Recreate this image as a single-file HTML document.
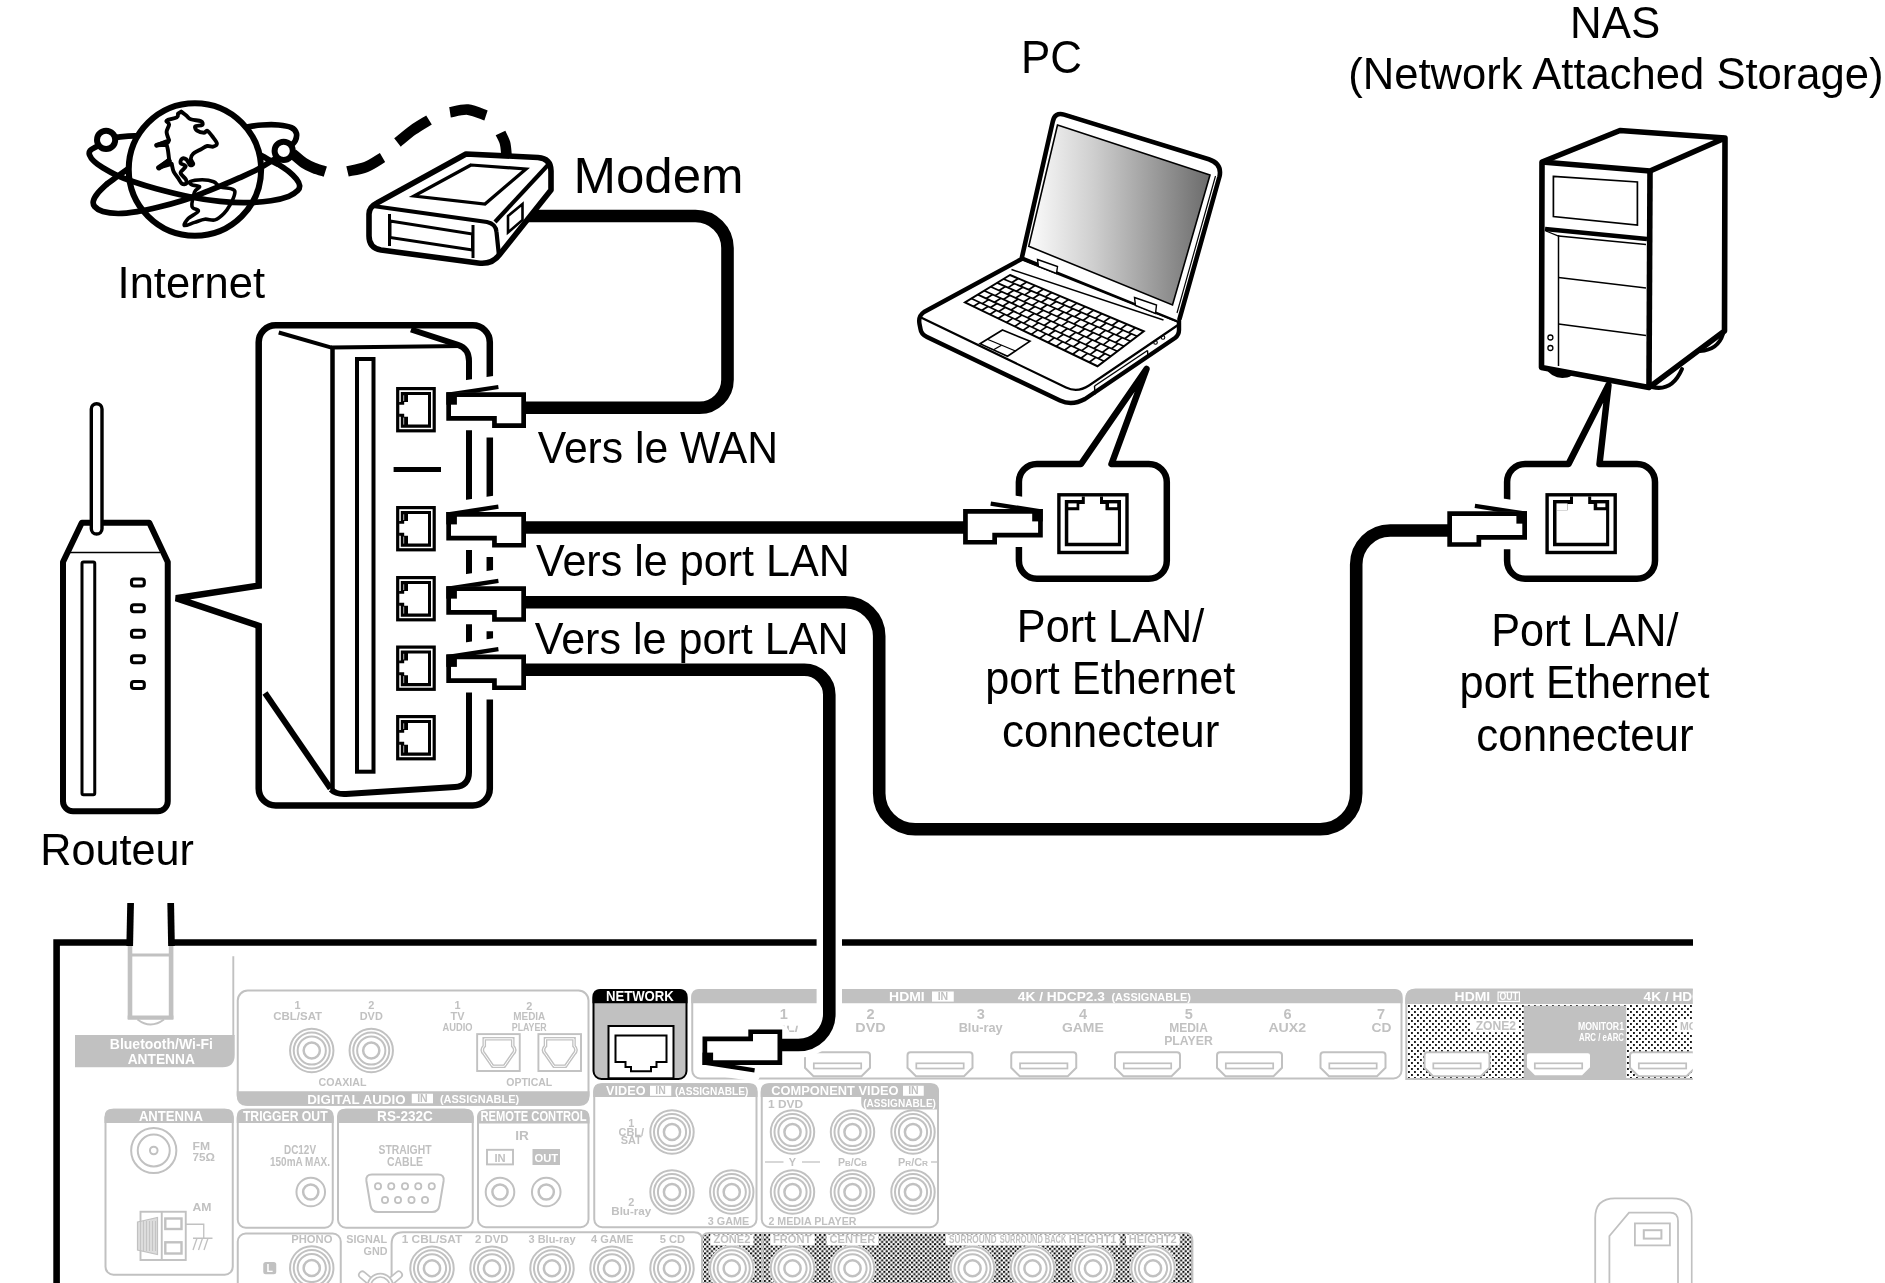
<!DOCTYPE html>
<html lang="fr">
<head>
<meta charset="utf-8">
<title>Connexion r&eacute;seau</title>
<style>
html,body{margin:0;padding:0;background:#fff;}
body{width:1885px;height:1283px;overflow:hidden;}
svg{display:block;will-change:transform;font-family:"Liberation Sans",Arial,Helvetica,sans-serif;}
</style>
</head>
<body>
<svg width="1885" height="1283" viewBox="0 0 1885 1283">
<defs>
<linearGradient id="scr" gradientUnits="userSpaceOnUse" x1="1030" y1="0" x2="1210" y2="0">
<stop offset="0" stop-color="#fbfbfb"/><stop offset="0.35" stop-color="#cfcfcf"/><stop offset="0.7" stop-color="#9a9a9a"/><stop offset="1" stop-color="#6b6b6b"/>
</linearGradient>
<pattern id="dots" width="6" height="6" patternUnits="userSpaceOnUse" x="1408" y="1005">
<rect width="6" height="6" fill="#fff"/><rect x="0" y="0" width="1.9" height="1.9" rx="0.6" fill="#000"/><rect x="3" y="3" width="1.9" height="1.9" rx="0.6" fill="#000"/>
</pattern>
<pattern id="dots2" width="4.6" height="4.6" patternUnits="userSpaceOnUse" x="704" y="1234">
<rect width="4.6" height="4.6" fill="#fff"/><rect x="0" y="0" width="2.1" height="2.1" rx="0.5" fill="#000"/><rect x="2.3" y="2.3" width="2.1" height="2.1" rx="0.5" fill="#000"/>
</pattern>
</defs>
<g stroke-linecap="round" stroke-linejoin="round">
<path d="M112 138C112.93 137.85 113.82 137.47 117.6 137.1C121.38 136.73 127.63 135.82 134.7 135.8C141.77 135.78 155.78 136.8 160 137" fill="none" stroke="#000" stroke-width="5.7"/>
<path d="M290.7 146C291.45 145.15 294.25 143.02 295.2 140.9C296.15 138.78 297.03 135.52 296.4 133.3C295.77 131.08 294.37 128.98 291.4 127.6C288.43 126.22 283.48 125.43 278.6 125C273.72 124.57 267.18 124.72 262.1 125C257.02 125.28 252.62 125.87 248.1 126.7C243.58 127.53 237.18 129.45 235 130" fill="none" stroke="#000" stroke-width="5.7"/>
<path d="M140 160C137.53 161.82 129.05 168.13 125.2 170.9C121.35 173.67 119.98 174.38 116.9 176.6C113.82 178.82 108.4 182.93 106.7 184.2" fill="none" stroke="#000" stroke-width="5.7"/>
<path d="M255 152C257.23 153.23 264.47 157.32 268.4 159.4C272.33 161.48 276.9 163.65 278.6 164.5" fill="none" stroke="#000" stroke-width="5.7"/>
</g>
<circle cx="194.9" cy="169.5" r="66.2" fill="#fff" stroke="#000" stroke-width="6.1"/>
<path d="M181.2 111.6C182.05 112.25 184.7 114.22 186.3 115.5C187.9 116.78 188.35 118.35 190.8 119.3C193.25 120.25 199.1 120.25 201 121.2C202.9 122.15 203.17 124.15 202.2 125C201.23 125.85 196.05 125.35 195.2 126.3C194.35 127.25 195.62 129.63 197.1 130.7C198.58 131.77 202.4 132.7 204.1 132.7C205.8 132.7 205.92 130.07 207.3 130.7C208.68 131.33 210.8 134.37 212.4 136.5C214 138.63 216.78 141.8 216.9 143.5C217.02 145.2 214.7 146.28 213.1 146.7C211.5 147.12 209.32 145.58 207.3 146C205.28 146.42 203.33 147.92 201 149.2C198.67 150.48 195 152.1 193.3 153.7C191.6 155.3 190.8 157.12 190.8 158.8C190.8 160.48 193.42 162.75 193.3 163.8C193.18 164.85 191.27 165.83 190.1 165.1C188.93 164.37 187.67 160.45 186.3 159.4C184.93 158.35 182.85 158.17 181.9 158.8C180.95 159.43 179.97 161.93 180.6 163.2C181.23 164.47 185.7 164.8 185.7 166.4C185.7 168 180.6 170.68 180.6 172.8C180.6 174.92 184.75 177.3 185.7 179.1C186.65 180.9 186.93 182.85 186.3 183.6C185.67 184.35 183.28 184.55 181.9 183.6C180.52 182.65 179.38 179.92 178 177.9C176.62 175.88 174.65 173.85 173.6 171.5C172.55 169.15 172.02 165.08 171.7 163.8L158.9,167.7L169.1,159.4C168.9 157.8 168.32 152.25 167.9 149.8C167.48 147.35 166.82 145.55 166.6 144.7L156.4,145.4L169.1,140.3C168.68 138.92 166.6 134.65 166.6 132C166.6 129.35 169.1 126.3 169.1 124.4C169.1 122.5 165.32 121.77 166.6 120.6C167.88 119.43 174.9 118.57 176.8 117.4C178.7 116.23 177.8 114.23 178 113.6Z" fill="none" stroke="#000" stroke-width="3.9" stroke-linejoin="round"/>
<line x1="158.9" y1="167.7" x2="169" y2="161" stroke="#000" stroke-width="5.5" stroke-linecap="round"/>
<line x1="156.6" y1="145.3" x2="168" y2="142" stroke="#000" stroke-width="4.6" stroke-linecap="round"/>
<path d="M190.1 181.7C191.8 180.85 198.27 179.8 202.2 179.8C206.13 179.8 210.72 180.53 213.7 181.7C216.68 182.87 216.92 185.53 220.1 186.8C223.28 188.07 230.37 188.13 232.8 189.3C235.23 190.47 235.13 191.25 234.7 193.8C234.27 196.35 232 201.32 230.2 204.6C228.4 207.88 226.43 210.95 223.9 213.5C221.37 216.05 218.18 218.95 215 219.9C211.82 220.85 208.2 218.78 204.8 219.2C201.4 219.62 198 221.33 194.6 222.4C191.2 223.47 185.47 226.23 184.4 225.6C183.33 224.97 185.87 221.03 188.2 218.6C190.53 216.17 197.77 213.02 198.4 211C199.03 208.98 192.63 209.68 192 206.5C191.37 203.32 193.32 195.18 194.6 191.9C195.88 188.62 200.13 187.97 199.7 186.8C199.27 185.63 193.6 185.75 192 184.9C190.4 184.05 188.4 182.55 190.1 181.7Z" fill="none" stroke="#000" stroke-width="3.6" stroke-linejoin="round"/>
<g stroke-linecap="round" stroke-linejoin="round">
<path d="M100 145C99.22 145.38 96.93 146.38 95.3 147.3C93.67 148.22 91.17 149.23 90.2 150.5C89.23 151.77 88.87 153.1 89.5 154.9C90.13 156.7 91.77 159.17 94 161.3C96.23 163.43 99.08 165.37 102.9 167.7C106.72 170.03 111.8 172.97 116.9 175.3C122 177.63 126.92 179.47 133.5 181.7C140.08 183.93 146.85 186.15 156.4 188.7C165.95 191.25 180.18 194.88 190.8 197C201.42 199.12 210.98 200.45 220.1 201.4C229.22 202.35 237.02 202.8 245.5 202.7C253.98 202.6 263.78 201.87 271 200.8C278.22 199.73 284.35 198 288.8 196.3C293.25 194.6 295.9 192.4 297.7 190.6C299.5 188.8 299.82 187.42 299.6 185.5C299.38 183.58 298.2 181.43 296.4 179.1C294.6 176.77 291.77 173.93 288.8 171.5C285.83 169.07 280.3 165.67 278.6 164.5" fill="none" stroke="#000" stroke-width="5.7"/>
<path d="M278 157C274.72 158.98 264.77 165.42 258.3 168.9C251.83 172.38 245.57 175.03 239.2 177.9C232.83 180.77 226.47 183.45 220.1 186.1C213.73 188.75 207.37 191.35 201 193.8C194.63 196.25 188.92 198.58 181.9 200.8C174.88 203.02 166.33 205.3 158.9 207.1C151.47 208.9 144.08 210.53 137.3 211.6C130.52 212.67 123.93 213.5 118.2 213.5C112.47 213.5 106.83 212.77 102.9 211.6C98.97 210.43 96.18 208.3 94.6 206.5C93.02 204.7 92.87 203.03 93.4 200.8C93.93 198.57 95.58 195.87 97.8 193.1C100.02 190.33 105.22 185.68 106.7 184.2" fill="none" stroke="#000" stroke-width="5.7"/>
</g>
<circle cx="106.1" cy="139.9" r="9.1" fill="#fff" stroke="#000" stroke-width="6"/>
<circle cx="283.7" cy="150.9" r="9.1" fill="#fff" stroke="#000" stroke-width="6"/>
<path d="M292.5 153.5C294.42 155.08 300.42 160.58 304 163C307.58 165.42 310.45 166.57 314 168C317.55 169.43 323.42 171 325.3 171.6" fill="none" stroke="#000" stroke-width="10.6"/>
<path d="M347.5 171.3C350.58 170.58 360.17 169.3 366 167C371.83 164.7 379.75 159.08 382.5 157.5" fill="none" stroke="#000" stroke-width="10.6"/>
<path d="M397.5 142.5C400.08 140.42 407.75 133.75 413 130C418.25 126.25 426.33 121.67 429 120" fill="none" stroke="#000" stroke-width="10.6"/>
<path d="M450 112.3C453 111.85 462 109.07 468 109.6C474 110.13 483 114.52 486 115.5" fill="none" stroke="#000" stroke-width="10.6"/>
<path d="M500.5 133C501.25 134.67 504 139.33 505 143C506 146.67 506.25 153 506.5 155" fill="none" stroke="#000" stroke-width="10.6"/>
<text x="117.59" y="297.5" font-size="44.77" textLength="147.48" lengthAdjust="spacingAndGlyphs">Internet</text>
<text x="573.42" y="192.5" font-size="50.87" textLength="170.13" lengthAdjust="spacingAndGlyphs">Modem</text>
<path d="M81.8,522.75 H149.3 L167.75,562 V801 A10,10 0 0 1 157.75,811.25 H73 A10,10 0 0 1 63,801 V562 Z" fill="#fff" stroke="#000" stroke-width="6" stroke-linejoin="round"/>
<line x1="70" y1="552.5" x2="160" y2="552.5" stroke="#000" stroke-width="1.3"/>
<rect x="82" y="562" width="12.75" height="232.75" fill="none" stroke="#000" stroke-width="3" rx="1.5"/>
<rect x="131.5" y="579" width="12.8" height="7" fill="none" stroke="#000" stroke-width="3.1" rx="2.4"/>
<rect x="131.5" y="604.75" width="12.8" height="7" fill="none" stroke="#000" stroke-width="3.1" rx="2.4"/>
<rect x="131.5" y="630.25" width="12.8" height="7" fill="none" stroke="#000" stroke-width="3.1" rx="2.4"/>
<rect x="131.5" y="655.75" width="12.8" height="7" fill="none" stroke="#000" stroke-width="3.1" rx="2.4"/>
<rect x="131.5" y="681.5" width="12.8" height="7" fill="none" stroke="#000" stroke-width="3.1" rx="2.4"/>
<rect x="91.3" y="403.7" width="10.7" height="130.3" fill="#fff" stroke="#000" stroke-width="3.4" rx="5.35"/>
<text x="40.3" y="865" font-size="44.77" textLength="153.47" lengthAdjust="spacingAndGlyphs">Routeur</text>
<path d="M275.7,325.2 H472.8 A17,17 0 0 1 489.8,342.2 V788.5 A17,17 0 0 1 472.8,805.5 H275.7 A17,17 0 0 1 258.7,788.5 V625.8 L176,598.2 L258.7,585.6 V342.2 A17,17 0 0 1 275.7,325.2 Z" fill="#fff" stroke="#000" stroke-width="6.5"/>
<line x1="278.75" y1="332.5" x2="331.5" y2="347.6" stroke="#000" stroke-width="4"/>
<line x1="331" y1="347.5" x2="463" y2="346" stroke="#000" stroke-width="4"/>
<line x1="332.5" y1="346" x2="332.5" y2="790" stroke="#000" stroke-width="4.5"/>
<path d="M411,329.5 L458,344.8 Q469,348.5 469,361 V772 Q469,786 455,787 L346,794 Q336,794.6 331,789.5" fill="none" stroke="#000" stroke-width="6"/>
<line x1="265" y1="693" x2="330.5" y2="788.5" stroke="#000" stroke-width="6"/>
<rect x="357" y="359" width="16.5" height="412.7" fill="none" stroke="#000" stroke-width="4"/>
<line x1="393.6" y1="469.5" x2="441" y2="469.5" stroke="#000" stroke-width="4.9"/>
<rect x="397.7" y="388.6" width="36.5" height="42.2" fill="none" stroke="#000" stroke-width="3.2"/>
<polygon points="400.8,392.1 431,392.1 431,427.8 400.8,427.8 400.8,416.7 399.1,416.7 399.1,413.8 404.2,413.8 404.2,416.7 408,416.7 408,424.4 428,424.4 428,395.1 408,395.1 408,401.9 404.2,401.9 404.2,404.8 399.1,404.8 399.1,401.9 400.8,401.9" fill="#000"/>
<line x1="403.7" y1="395.3" x2="403.7" y2="401" stroke="#fff" stroke-width="0.7"/>
<line x1="403.7" y1="417.6" x2="403.7" y2="424.6" stroke="#fff" stroke-width="0.7"/>
<rect x="397.7" y="507.6" width="36.5" height="42.2" fill="none" stroke="#000" stroke-width="3.2"/>
<polygon points="400.8,511.1 431,511.1 431,546.8 400.8,546.8 400.8,535.7 399.1,535.7 399.1,532.8 404.2,532.8 404.2,535.7 408,535.7 408,543.4 428,543.4 428,514.1 408,514.1 408,520.9 404.2,520.9 404.2,523.8 399.1,523.8 399.1,520.9 400.8,520.9" fill="#000"/>
<line x1="403.7" y1="514.3" x2="403.7" y2="520" stroke="#fff" stroke-width="0.7"/>
<line x1="403.7" y1="536.6" x2="403.7" y2="543.6" stroke="#fff" stroke-width="0.7"/>
<rect x="397.7" y="577.6" width="36.5" height="42.2" fill="none" stroke="#000" stroke-width="3.2"/>
<polygon points="400.8,581.1 431,581.1 431,616.8 400.8,616.8 400.8,605.7 399.1,605.7 399.1,602.8 404.2,602.8 404.2,605.7 408,605.7 408,613.4 428,613.4 428,584.1 408,584.1 408,590.9 404.2,590.9 404.2,593.8 399.1,593.8 399.1,590.9 400.8,590.9" fill="#000"/>
<line x1="403.7" y1="584.3" x2="403.7" y2="590" stroke="#fff" stroke-width="0.7"/>
<line x1="403.7" y1="606.6" x2="403.7" y2="613.6" stroke="#fff" stroke-width="0.7"/>
<rect x="397.7" y="647.1" width="36.5" height="42.2" fill="none" stroke="#000" stroke-width="3.2"/>
<polygon points="400.8,650.6 431,650.6 431,686.3 400.8,686.3 400.8,675.2 399.1,675.2 399.1,672.3 404.2,672.3 404.2,675.2 408,675.2 408,682.9 428,682.9 428,653.6 408,653.6 408,660.4 404.2,660.4 404.2,663.3 399.1,663.3 399.1,660.4 400.8,660.4" fill="#000"/>
<line x1="403.7" y1="653.8" x2="403.7" y2="659.5" stroke="#fff" stroke-width="0.7"/>
<line x1="403.7" y1="676.1" x2="403.7" y2="683.1" stroke="#fff" stroke-width="0.7"/>
<rect x="397.7" y="716.6" width="36.5" height="42.2" fill="none" stroke="#000" stroke-width="3.2"/>
<polygon points="400.8,720.1 431,720.1 431,755.8 400.8,755.8 400.8,744.7 399.1,744.7 399.1,741.8 404.2,741.8 404.2,744.7 408,744.7 408,752.4 428,752.4 428,723.1 408,723.1 408,729.9 404.2,729.9 404.2,732.8 399.1,732.8 399.1,729.9 400.8,729.9" fill="#000"/>
<line x1="403.7" y1="723.3" x2="403.7" y2="729" stroke="#fff" stroke-width="0.7"/>
<line x1="403.7" y1="745.6" x2="403.7" y2="752.6" stroke="#fff" stroke-width="0.7"/>
<g transform="translate(446.3,392.3) scale(1,1)">
<polygon points="2.35,2.35 77.35,2.35 77.35,33.25 48.15,33.25 48.15,26.15 2.35,26.15" fill="#fff" stroke="#fff" stroke-width="23.7"/>
<polygon points="0,0.4 51.8,-7.4 52.4,-3.2 29,0.4" fill="#fff" stroke="#fff" stroke-width="19" stroke-linejoin="bevel"/>
<polygon points="2.35,2.35 77.35,2.35 77.35,33.25 48.15,33.25 48.15,26.15 2.35,26.15" fill="#fff" stroke="#000" stroke-width="4.7"/>
<rect x="0" y="0" width="10.6" height="12.4" fill="#000"/>
<polygon points="0,0.4 51.8,-7.4 52.4,-3.2 29,0.4" fill="#000"/>
</g>
<g transform="translate(446.3,512) scale(1,1)">
<polygon points="2.35,2.35 77.35,2.35 77.35,33.25 48.15,33.25 48.15,26.15 2.35,26.15" fill="#fff" stroke="#fff" stroke-width="23.7"/>
<polygon points="0,0.4 51.8,-7.4 52.4,-3.2 29,0.4" fill="#fff" stroke="#fff" stroke-width="19" stroke-linejoin="bevel"/>
<polygon points="2.35,2.35 77.35,2.35 77.35,33.25 48.15,33.25 48.15,26.15 2.35,26.15" fill="#fff" stroke="#000" stroke-width="4.7"/>
<rect x="0" y="0" width="10.6" height="12.4" fill="#000"/>
<polygon points="0,0.4 51.8,-7.4 52.4,-3.2 29,0.4" fill="#000"/>
</g>
<g transform="translate(446.3,586.25) scale(1,1)">
<polygon points="2.35,2.35 77.35,2.35 77.35,33.25 48.15,33.25 48.15,26.15 2.35,26.15" fill="#fff" stroke="#fff" stroke-width="23.7"/>
<polygon points="0,0.4 51.8,-7.4 52.4,-3.2 29,0.4" fill="#fff" stroke="#fff" stroke-width="19" stroke-linejoin="bevel"/>
<polygon points="2.35,2.35 77.35,2.35 77.35,33.25 48.15,33.25 48.15,26.15 2.35,26.15" fill="#fff" stroke="#000" stroke-width="4.7"/>
<rect x="0" y="0" width="10.6" height="12.4" fill="#000"/>
<polygon points="0,0.4 51.8,-7.4 52.4,-3.2 29,0.4" fill="#000"/>
</g>
<g transform="translate(446.3,654.5) scale(1,1)">
<polygon points="2.35,2.35 77.35,2.35 77.35,33.25 48.15,33.25 48.15,26.15 2.35,26.15" fill="#fff" stroke="#fff" stroke-width="23.7"/>
<polygon points="0,0.4 51.8,-7.4 52.4,-3.2 29,0.4" fill="#fff" stroke="#fff" stroke-width="19" stroke-linejoin="bevel"/>
<polygon points="2.35,2.35 77.35,2.35 77.35,33.25 48.15,33.25 48.15,26.15 2.35,26.15" fill="#fff" stroke="#000" stroke-width="4.7"/>
<rect x="0" y="0" width="10.6" height="12.4" fill="#000"/>
<polygon points="0,0.4 51.8,-7.4 52.4,-3.2 29,0.4" fill="#000"/>
</g>
<text x="537.79" y="462.5" font-size="45.06" textLength="240.17" lengthAdjust="spacingAndGlyphs">Vers le WAN</text>
<text x="536.03" y="576.25" font-size="44.33" textLength="313.73" lengthAdjust="spacingAndGlyphs">Vers le port LAN</text>
<text x="534.78" y="653.75" font-size="44.33" textLength="313.73" lengthAdjust="spacingAndGlyphs">Vers le port LAN</text>
<path d="M1022.5,258.5 L924,312 Q918,316 919.5,324 L920.5,329 Q921,334 927,337 L1060,400.5 Q1072,406 1085,399 L1175,338 Q1179,335 1179,330 L1179,321 Z" fill="#fff" stroke="#000" stroke-width="4.4" stroke-linejoin="round"/>
<path d="M921,317.5 L1066,387.5 Q1077.5,393 1089,385.5 L1178,325" fill="none" stroke="#000" stroke-width="2.2"/>
<line x1="1094.5" y1="386" x2="1147.5" y2="350.5" stroke="#000" stroke-width="1.4"/>
<line x1="1094.5" y1="386" x2="1095" y2="394.5" stroke="#000" stroke-width="1.4"/>
<line x1="1147.5" y1="350.5" x2="1148" y2="357" stroke="#000" stroke-width="1.4"/>
<circle cx="1155.5" cy="342.5" r="1.8" fill="none" stroke="#000" stroke-width="1.1"/>
<circle cx="1163" cy="337.5" r="1.8" fill="none" stroke="#000" stroke-width="1.1"/>
<polygon points="1010,275 1143.75,331.25 1097.5,366.25 965,302.5" fill="#fff" stroke="#000" stroke-width="2"/>
<line x1="1003.57" y1="278.93" x2="1137.14" y2="336.25" stroke="#000" stroke-width="1.7"/>
<line x1="997.14" y1="282.86" x2="1130.54" y2="341.25" stroke="#000" stroke-width="1.7"/>
<line x1="990.71" y1="286.79" x2="1123.93" y2="346.25" stroke="#000" stroke-width="1.7"/>
<line x1="984.29" y1="290.71" x2="1117.32" y2="351.25" stroke="#000" stroke-width="1.7"/>
<line x1="977.86" y1="294.64" x2="1110.71" y2="356.25" stroke="#000" stroke-width="1.7"/>
<line x1="971.43" y1="298.57" x2="1104.11" y2="361.25" stroke="#000" stroke-width="1.7"/>
<line x1="1018.36" y1="278.52" x2="1011.92" y2="282.51" stroke="#000" stroke-width="1.7"/>
<line x1="1026.72" y1="282.03" x2="1020.27" y2="286.09" stroke="#000" stroke-width="1.7"/>
<line x1="1035.08" y1="285.55" x2="1028.62" y2="289.68" stroke="#000" stroke-width="1.7"/>
<line x1="1043.44" y1="289.06" x2="1036.96" y2="293.26" stroke="#000" stroke-width="1.7"/>
<line x1="1051.8" y1="292.58" x2="1045.31" y2="296.84" stroke="#000" stroke-width="1.7"/>
<line x1="1060.16" y1="296.09" x2="1053.66" y2="300.42" stroke="#000" stroke-width="1.7"/>
<line x1="1068.52" y1="299.61" x2="1062.01" y2="304.01" stroke="#000" stroke-width="1.7"/>
<line x1="1076.88" y1="303.12" x2="1070.36" y2="307.59" stroke="#000" stroke-width="1.7"/>
<line x1="1085.23" y1="306.64" x2="1078.71" y2="311.17" stroke="#000" stroke-width="1.7"/>
<line x1="1093.59" y1="310.16" x2="1087.05" y2="314.75" stroke="#000" stroke-width="1.7"/>
<line x1="1101.95" y1="313.67" x2="1095.4" y2="318.34" stroke="#000" stroke-width="1.7"/>
<line x1="1110.31" y1="317.19" x2="1103.75" y2="321.92" stroke="#000" stroke-width="1.7"/>
<line x1="1118.67" y1="320.7" x2="1112.1" y2="325.5" stroke="#000" stroke-width="1.7"/>
<line x1="1127.03" y1="324.22" x2="1120.45" y2="329.08" stroke="#000" stroke-width="1.7"/>
<line x1="1135.39" y1="327.73" x2="1128.79" y2="332.67" stroke="#000" stroke-width="1.7"/>
<line x1="1014.42" y1="283.59" x2="1007.98" y2="287.6" stroke="#000" stroke-width="1.7"/>
<line x1="1022.77" y1="287.17" x2="1016.32" y2="291.25" stroke="#000" stroke-width="1.7"/>
<line x1="1031.12" y1="290.75" x2="1024.66" y2="294.9" stroke="#000" stroke-width="1.7"/>
<line x1="1039.47" y1="294.33" x2="1032.99" y2="298.55" stroke="#000" stroke-width="1.7"/>
<line x1="1047.82" y1="297.92" x2="1041.33" y2="302.2" stroke="#000" stroke-width="1.7"/>
<line x1="1056.17" y1="301.5" x2="1049.67" y2="305.85" stroke="#000" stroke-width="1.7"/>
<line x1="1064.51" y1="305.08" x2="1058" y2="309.5" stroke="#000" stroke-width="1.7"/>
<line x1="1072.86" y1="308.66" x2="1066.34" y2="313.15" stroke="#000" stroke-width="1.7"/>
<line x1="1081.21" y1="312.25" x2="1074.68" y2="316.8" stroke="#000" stroke-width="1.7"/>
<line x1="1089.56" y1="315.83" x2="1083.01" y2="320.45" stroke="#000" stroke-width="1.7"/>
<line x1="1097.91" y1="319.41" x2="1091.35" y2="324.1" stroke="#000" stroke-width="1.7"/>
<line x1="1106.25" y1="322.99" x2="1099.69" y2="327.75" stroke="#000" stroke-width="1.7"/>
<line x1="1114.6" y1="326.58" x2="1108.03" y2="331.4" stroke="#000" stroke-width="1.7"/>
<line x1="1122.95" y1="330.16" x2="1116.36" y2="335.05" stroke="#000" stroke-width="1.7"/>
<line x1="1131.3" y1="333.74" x2="1124.7" y2="338.7" stroke="#000" stroke-width="1.7"/>
<line x1="1005.48" y1="286.51" x2="999.04" y2="290.5" stroke="#000" stroke-width="1.7"/>
<line x1="1013.82" y1="290.16" x2="1007.37" y2="294.22" stroke="#000" stroke-width="1.7"/>
<line x1="1022.15" y1="293.81" x2="1015.69" y2="297.94" stroke="#000" stroke-width="1.7"/>
<line x1="1030.49" y1="297.46" x2="1024.02" y2="301.65" stroke="#000" stroke-width="1.7"/>
<line x1="1038.83" y1="301.1" x2="1032.34" y2="305.37" stroke="#000" stroke-width="1.7"/>
<line x1="1047.17" y1="304.75" x2="1040.67" y2="309.08" stroke="#000" stroke-width="1.7"/>
<line x1="1055.5" y1="308.4" x2="1049" y2="312.8" stroke="#000" stroke-width="1.7"/>
<line x1="1063.84" y1="312.05" x2="1057.32" y2="316.52" stroke="#000" stroke-width="1.7"/>
<line x1="1072.18" y1="315.7" x2="1065.65" y2="320.23" stroke="#000" stroke-width="1.7"/>
<line x1="1080.51" y1="319.35" x2="1073.97" y2="323.95" stroke="#000" stroke-width="1.7"/>
<line x1="1088.85" y1="323" x2="1082.3" y2="327.67" stroke="#000" stroke-width="1.7"/>
<line x1="1097.19" y1="326.65" x2="1090.62" y2="331.38" stroke="#000" stroke-width="1.7"/>
<line x1="1105.52" y1="330.3" x2="1098.95" y2="335.1" stroke="#000" stroke-width="1.7"/>
<line x1="1113.86" y1="333.95" x2="1107.28" y2="338.82" stroke="#000" stroke-width="1.7"/>
<line x1="1122.2" y1="337.6" x2="1115.6" y2="342.53" stroke="#000" stroke-width="1.7"/>
<line x1="1001.54" y1="291.62" x2="995.09" y2="295.63" stroke="#000" stroke-width="1.7"/>
<line x1="1009.86" y1="295.33" x2="1003.41" y2="299.42" stroke="#000" stroke-width="1.7"/>
<line x1="1018.19" y1="299.05" x2="1011.72" y2="303.2" stroke="#000" stroke-width="1.7"/>
<line x1="1026.52" y1="302.77" x2="1020.04" y2="306.98" stroke="#000" stroke-width="1.7"/>
<line x1="1034.84" y1="306.48" x2="1028.35" y2="310.77" stroke="#000" stroke-width="1.7"/>
<line x1="1043.17" y1="310.2" x2="1036.67" y2="314.55" stroke="#000" stroke-width="1.7"/>
<line x1="1051.49" y1="313.92" x2="1044.98" y2="318.33" stroke="#000" stroke-width="1.7"/>
<line x1="1059.82" y1="317.63" x2="1053.3" y2="322.12" stroke="#000" stroke-width="1.7"/>
<line x1="1068.15" y1="321.35" x2="1061.61" y2="325.9" stroke="#000" stroke-width="1.7"/>
<line x1="1076.47" y1="325.07" x2="1069.93" y2="329.68" stroke="#000" stroke-width="1.7"/>
<line x1="1084.8" y1="328.78" x2="1078.24" y2="333.47" stroke="#000" stroke-width="1.7"/>
<line x1="1093.12" y1="332.5" x2="1086.56" y2="337.25" stroke="#000" stroke-width="1.7"/>
<line x1="1101.45" y1="336.22" x2="1094.87" y2="341.03" stroke="#000" stroke-width="1.7"/>
<line x1="1109.77" y1="339.93" x2="1103.19" y2="344.82" stroke="#000" stroke-width="1.7"/>
<line x1="1118.1" y1="343.65" x2="1111.5" y2="348.6" stroke="#000" stroke-width="1.7"/>
<line x1="992.6" y1="294.5" x2="986.16" y2="298.49" stroke="#000" stroke-width="1.7"/>
<line x1="1000.92" y1="298.28" x2="994.46" y2="302.34" stroke="#000" stroke-width="1.7"/>
<line x1="1009.23" y1="302.06" x2="1002.77" y2="306.19" stroke="#000" stroke-width="1.7"/>
<line x1="1017.54" y1="305.85" x2="1011.07" y2="310.04" stroke="#000" stroke-width="1.7"/>
<line x1="1025.86" y1="309.63" x2="1019.38" y2="313.9" stroke="#000" stroke-width="1.7"/>
<line x1="1034.17" y1="313.42" x2="1027.68" y2="317.75" stroke="#000" stroke-width="1.7"/>
<line x1="1042.49" y1="317.2" x2="1035.98" y2="321.6" stroke="#000" stroke-width="1.7"/>
<line x1="1050.8" y1="320.98" x2="1044.29" y2="325.45" stroke="#000" stroke-width="1.7"/>
<line x1="1059.12" y1="324.77" x2="1052.59" y2="329.3" stroke="#000" stroke-width="1.7"/>
<line x1="1067.43" y1="328.55" x2="1060.89" y2="333.15" stroke="#000" stroke-width="1.7"/>
<line x1="1075.75" y1="332.33" x2="1069.2" y2="337" stroke="#000" stroke-width="1.7"/>
<line x1="1084.06" y1="336.12" x2="1077.5" y2="340.85" stroke="#000" stroke-width="1.7"/>
<line x1="1092.38" y1="339.9" x2="1085.8" y2="344.7" stroke="#000" stroke-width="1.7"/>
<line x1="1100.69" y1="343.68" x2="1094.11" y2="348.55" stroke="#000" stroke-width="1.7"/>
<line x1="1109.01" y1="347.47" x2="1102.41" y2="352.4" stroke="#000" stroke-width="1.7"/>
<line x1="988.65" y1="299.65" x2="982.21" y2="303.66" stroke="#000" stroke-width="1.7"/>
<line x1="996.96" y1="303.5" x2="990.5" y2="307.58" stroke="#000" stroke-width="1.7"/>
<line x1="1005.26" y1="307.35" x2="998.79" y2="311.5" stroke="#000" stroke-width="1.7"/>
<line x1="1013.56" y1="311.2" x2="1007.09" y2="315.42" stroke="#000" stroke-width="1.7"/>
<line x1="1021.87" y1="315.05" x2="1015.38" y2="319.33" stroke="#000" stroke-width="1.7"/>
<line x1="1030.17" y1="318.9" x2="1023.67" y2="323.25" stroke="#000" stroke-width="1.7"/>
<line x1="1038.47" y1="322.75" x2="1031.96" y2="327.17" stroke="#000" stroke-width="1.7"/>
<line x1="1046.78" y1="326.6" x2="1040.26" y2="331.09" stroke="#000" stroke-width="1.7"/>
<line x1="1055.08" y1="330.45" x2="1048.55" y2="335" stroke="#000" stroke-width="1.7"/>
<line x1="1063.38" y1="334.3" x2="1056.84" y2="338.92" stroke="#000" stroke-width="1.7"/>
<line x1="1071.69" y1="338.15" x2="1065.13" y2="342.84" stroke="#000" stroke-width="1.7"/>
<line x1="1079.99" y1="342" x2="1073.43" y2="346.76" stroke="#000" stroke-width="1.7"/>
<line x1="1088.29" y1="345.85" x2="1081.72" y2="350.67" stroke="#000" stroke-width="1.7"/>
<line x1="1096.6" y1="349.7" x2="1090.01" y2="354.59" stroke="#000" stroke-width="1.7"/>
<line x1="1104.9" y1="353.55" x2="1098.3" y2="358.51" stroke="#000" stroke-width="1.7"/>
<line x1="979.72" y1="302.49" x2="973.28" y2="306.48" stroke="#000" stroke-width="1.7"/>
<line x1="988.01" y1="306.41" x2="981.56" y2="310.47" stroke="#000" stroke-width="1.7"/>
<line x1="996.31" y1="310.32" x2="989.84" y2="314.45" stroke="#000" stroke-width="1.7"/>
<line x1="1004.6" y1="314.24" x2="998.12" y2="318.44" stroke="#000" stroke-width="1.7"/>
<line x1="1012.89" y1="318.16" x2="1006.41" y2="322.42" stroke="#000" stroke-width="1.7"/>
<line x1="1021.18" y1="322.08" x2="1014.69" y2="326.41" stroke="#000" stroke-width="1.7"/>
<line x1="1029.48" y1="325.99" x2="1022.97" y2="330.39" stroke="#000" stroke-width="1.7"/>
<line x1="1037.77" y1="329.91" x2="1031.25" y2="334.38" stroke="#000" stroke-width="1.7"/>
<line x1="1046.06" y1="333.83" x2="1039.53" y2="338.36" stroke="#000" stroke-width="1.7"/>
<line x1="1054.35" y1="337.75" x2="1047.81" y2="342.34" stroke="#000" stroke-width="1.7"/>
<line x1="1062.65" y1="341.66" x2="1056.09" y2="346.33" stroke="#000" stroke-width="1.7"/>
<line x1="1070.94" y1="345.58" x2="1064.38" y2="350.31" stroke="#000" stroke-width="1.7"/>
<line x1="1079.23" y1="349.5" x2="1072.66" y2="354.3" stroke="#000" stroke-width="1.7"/>
<line x1="1087.52" y1="353.42" x2="1080.94" y2="358.28" stroke="#000" stroke-width="1.7"/>
<line x1="1095.81" y1="357.33" x2="1089.22" y2="362.27" stroke="#000" stroke-width="1.7"/>
<line x1="1011.5" y1="269.5" x2="1163.5" y2="320" stroke="#000" stroke-width="1.4"/>
<polygon points="1002.5,330 1030,341.25 1007.5,356.25 980,343.75" fill="none" stroke="#000" stroke-width="1.6"/>
<line x1="988" y1="339.5" x2="1015.5" y2="351" stroke="#000" stroke-width="1.3"/>
<line x1="994" y1="349.5" x2="1001.5" y2="345.3" stroke="#000" stroke-width="1.3"/>
<path d="M1021.5,258 L1052.5,121 Q1054.5,111.5 1064,114 L1209,158.8 Q1223,163.5 1220,176.5 L1179,322 Z" fill="#fff" stroke="#000" stroke-width="2" stroke-linejoin="round"/>
<path d="M1022,257 L1052.8,121.5 Q1054.8,112 1064,114.6 L1208.8,159.3 Q1222.3,163.8 1219.5,176.5 L1179.5,319" fill="none" stroke="#000" stroke-width="4.6" stroke-linejoin="round" stroke-linecap="round"/>
<line x1="1021.5" y1="258" x2="1040" y2="265.5" stroke="#000" stroke-width="4"/>
<polygon points="1057.5,125 1210,175 1172.5,305 1028.75,246.25" fill="url(#scr)" stroke="#000" stroke-width="1.6"/>
<line x1="1215.5" y1="176" x2="1177" y2="313" stroke="#000" stroke-width="1.2"/>
<polygon points="1037.5,259.5 1057.5,266.5 1056.5,273.5 1038.5,266.5" fill="#fff" stroke="#000" stroke-width="1.4"/>
<polygon points="1134.5,297.5 1156.5,305 1155.5,313.5 1135.5,305.5" fill="#fff" stroke="#000" stroke-width="1.4"/>
<text x="1020.99" y="73" font-size="46.15" textLength="60.95" lengthAdjust="spacingAndGlyphs">PC</text>
<path d="M1036.9,464 H1081 L1146.5,369 L1111.5,464 H1148.8 A18,18 0 0 1 1166.8,482 V560.8 A18,18 0 0 1 1148.8,578.8 H1036.9 A18,18 0 0 1 1018.9,560.8 V482 A18,18 0 0 1 1036.9,464 Z" fill="#fff" stroke="#000" stroke-width="6.5" stroke-linejoin="round"/>
<rect x="1058.9" y="494.8" width="68.1" height="57.7" fill="none" stroke="#000" stroke-width="3.4"/>
<polygon points="1064.8,500 1081.8,500 1081.8,496.6 1084.8,496.6 1084.8,504.1 1079.3,504.1 1079.3,510.3 1068.3,510.3 1068.3,542.8 1117.9,542.8 1117.9,510.3 1105.5,510.3 1105.5,504.1 1100,504.1 1100,496.6 1103,496.6 1103,500 1121,500 1121,546.2 1064.8,546.2" fill="#000"/>
<rect x="1068.3" y="503.4" width="8.3" height="3.8" fill="#fff"/>
<rect x="1109" y="503.4" width="8.2" height="3.8" fill="#fff"/>
<path d="M1525.1,464 H1568.5 L1608.5,385 L1599.5,464 H1637 A18,18 0 0 1 1655,482 V560.8 A18,18 0 0 1 1637,578.8 H1525.1 A18,18 0 0 1 1507.1,560.8 V482 A18,18 0 0 1 1525.1,464 Z" fill="#fff" stroke="#000" stroke-width="6.5" stroke-linejoin="round"/>
<rect x="1547.1" y="494.8" width="68.1" height="57.7" fill="none" stroke="#000" stroke-width="3.4"/>
<polygon points="1553,500 1570,500 1570,496.6 1573,496.6 1573,504.1 1567.5,504.1 1567.5,510.3 1556.5,510.3 1556.5,542.8 1606.1,542.8 1606.1,510.3 1593.7,510.3 1593.7,504.1 1588.2,504.1 1588.2,496.6 1591.2,496.6 1591.2,500 1609.2,500 1609.2,546.2 1553,546.2" fill="#000"/>
<rect x="1556.5" y="503.4" width="11" height="7" fill="#fff"/>
<rect x="1597.2" y="503.4" width="8.2" height="3.8" fill="#fff"/>
<g transform="translate(1042.8,509) scale(-1,1)">
<polygon points="2.35,2.35 77.35,2.35 77.35,33.25 48.15,33.25 48.15,26.15 2.35,26.15" fill="#fff" stroke="#fff" stroke-width="23.7"/>
<polygon points="0,0.4 51.8,-7.4 52.4,-3.2 29,0.4" fill="#fff" stroke="#fff" stroke-width="19" stroke-linejoin="bevel"/>
<polygon points="2.35,2.35 77.35,2.35 77.35,33.25 48.15,33.25 48.15,26.15 2.35,26.15" fill="#fff" stroke="#000" stroke-width="4.7"/>
<rect x="0" y="0" width="10.6" height="12.4" fill="#000"/>
<polygon points="0,0.4 51.8,-7.4 52.4,-3.2 29,0.4" fill="#000"/>
</g>
<g transform="translate(1527,511.25) scale(-1,1)">
<polygon points="2.35,2.35 77.35,2.35 77.35,33.25 48.15,33.25 48.15,26.15 2.35,26.15" fill="#fff" stroke="#fff" stroke-width="23.7"/>
<polygon points="0,0.4 51.8,-7.4 52.4,-3.2 29,0.4" fill="#fff" stroke="#fff" stroke-width="19" stroke-linejoin="bevel"/>
<polygon points="2.35,2.35 77.35,2.35 77.35,33.25 48.15,33.25 48.15,26.15 2.35,26.15" fill="#fff" stroke="#000" stroke-width="4.7"/>
<rect x="0" y="0" width="10.6" height="12.4" fill="#000"/>
<polygon points="0,0.4 51.8,-7.4 52.4,-3.2 29,0.4" fill="#000"/>
</g>
<path d="M528,216 H695.5 A32,32 0 0 1 727.5,248 V379.8 A28,28 0 0 1 699.5,407.8 H525" fill="none" stroke="#000" stroke-width="12.6"/>
<path d="M525,527.5 H964" fill="none" stroke="#000" stroke-width="12.6"/>
<path d="M525,602.2 H845 A34,34 0 0 1 879.2,636 V793 A36,36 0 0 0 915.2,829.3 H1320 A36,36 0 0 0 1356.2,793.3 V564.5 A34,34 0 0 1 1390.2,530.5 H1449" fill="none" stroke="#000" stroke-width="12.6"/>
<path d="M466,154 L538,157.5 Q551,158.5 551,171 V190 L500,254 Q492,265 478,263 L381,250 Q369,248 369,236 V214 Q369,207 377,203 Z" fill="#fff" stroke="#000" stroke-width="5.6" stroke-linejoin="round"/>
<path d="M373,206 L487,222 Q496,224 496.5,232 L499,256" fill="none" stroke="#000" stroke-width="4.2"/>
<line x1="495" y1="222" x2="548" y2="165" stroke="#000" stroke-width="4.2"/>
<polygon points="471,165 526,169 485,204 414,196" fill="none" stroke="#000" stroke-width="3.2"/>
<polygon points="390,221 472.5,234 472.5,250 390,237.5" fill="none" stroke="#000" stroke-width="3"/>
<line x1="389.5" y1="214" x2="389.5" y2="246" stroke="#000" stroke-width="3"/>
<line x1="473" y1="225" x2="473" y2="258" stroke="#000" stroke-width="3"/>
<polygon points="508,216 522.5,204 522.5,220 508,232.5" fill="none" stroke="#000" stroke-width="2.6"/>
<text x="1016.84" y="642" font-size="45.49" textLength="187.38" lengthAdjust="spacingAndGlyphs">Port LAN/</text>
<text x="985.29" y="694" font-size="45.49" textLength="249.99" lengthAdjust="spacingAndGlyphs">port Ethernet</text>
<text x="1002.02" y="746.8" font-size="45.49" textLength="217.36" lengthAdjust="spacingAndGlyphs">connecteur</text>
<text x="1491.14" y="646" font-size="45.49" textLength="187.38" lengthAdjust="spacingAndGlyphs">Port LAN/</text>
<text x="1459.59" y="698" font-size="45.49" textLength="249.99" lengthAdjust="spacingAndGlyphs">port Ethernet</text>
<text x="1476.32" y="750.8" font-size="45.49" textLength="217.36" lengthAdjust="spacingAndGlyphs">connecteur</text>
<path d="M1546,367 Q1553,379 1567,376.5 Q1572,375.5 1573,372 Z" fill="#000" stroke="#000" stroke-width="2"/>
<path d="M1652,387 Q1672,392 1682,369" fill="none" stroke="#000" stroke-width="4" stroke-linecap="round"/>
<path d="M1700,351 Q1718,350 1723,334" fill="none" stroke="#000" stroke-width="4" stroke-linecap="round"/>
<polygon points="1542,162 1620,130.5 1725,138 1724.5,331 1649,387.5 1541.5,367.5" fill="#fff" stroke="#000" stroke-width="5.6" stroke-linejoin="round"/>
<polyline points="1542,162 1650,171 1725,138" fill="none" stroke="#000" stroke-width="5.6" stroke-linejoin="round"/>
<line x1="1650" y1="171" x2="1649" y2="387.5" stroke="#000" stroke-width="5.6"/>
<line x1="1545" y1="229" x2="1647" y2="239" stroke="#000" stroke-width="4.6"/>
<polygon points="1553.4,176.4 1637.4,182 1637.4,225 1553.4,216.6" fill="none" stroke="#000" stroke-width="1.7"/>
<line x1="1558.5" y1="235" x2="1558.5" y2="366" stroke="#000" stroke-width="1.5"/>
<polyline points="1546,231 1558.5,236 1646,244.5" fill="none" stroke="#000" stroke-width="1.3"/>
<line x1="1558.5" y1="277.5" x2="1646" y2="288" stroke="#000" stroke-width="1.5"/>
<line x1="1558.5" y1="324" x2="1646" y2="335.4" stroke="#000" stroke-width="1.5"/>
<circle cx="1550.4" cy="337.5" r="2.5" fill="none" stroke="#000" stroke-width="1.3"/>
<circle cx="1550.4" cy="348" r="2.5" fill="none" stroke="#000" stroke-width="1.3"/>
<text x="1570.09" y="37.8" font-size="45.06" textLength="90.13" lengthAdjust="spacingAndGlyphs">NAS</text>
<text x="1348.18" y="88.5" font-size="44.77" textLength="535.41" lengthAdjust="spacingAndGlyphs">(Network Attached Storage)</text>
<clipPath id="pc"><rect x="0" y="880" width="1692.8" height="410"/></clipPath>
<g clip-path="url(#pc)">
<line x1="130" y1="946" x2="130" y2="1019" stroke="#c1c1c1" stroke-width="4.6"/>
<line x1="171.1" y1="946" x2="171.1" y2="1019" stroke="#c1c1c1" stroke-width="4.6"/>
<line x1="130" y1="955" x2="171.1" y2="955" stroke="#c1c1c1" stroke-width="3"/>
<line x1="127.7" y1="1017.6" x2="173.4" y2="1017.6" stroke="#c1c1c1" stroke-width="4.3"/>
<path d="M137.5,1019.5 Q150.5,1029.5 164,1019.5" fill="none" stroke="#c1c1c1" stroke-width="1.8"/>
<line x1="233.3" y1="956.3" x2="233.3" y2="1036" stroke="#c1c1c1" stroke-width="1.9"/>
<path d="M75,1035 H234.7 V1055 Q234.7,1067.3 222.5,1067.3 H75 Z" fill="#c1c1c1"/>
<text x="109.84" y="1048.75" font-size="14.53" font-weight="bold" fill="#fff" textLength="103.18" lengthAdjust="spacingAndGlyphs">Bluetooth/Wi-Fi</text>
<text x="127.66" y="1063.75" font-size="14.53" font-weight="bold" fill="#fff" textLength="67.24" lengthAdjust="spacingAndGlyphs">ANTENNA</text>
<path d="M236.75,1091.25 V1095.75 Q236.75,1105.75 246.75,1105.75 H579.5 Q589.5,1105.75 589.5,1095.75 V1091.25 Z" fill="#c1c1c1"/>
<rect x="237.75" y="990.5" width="350.75" height="114.25" fill="none" stroke="#c1c1c1" stroke-width="2" rx="10"/>
<text x="307.13" y="1103.5" font-size="13.37" font-weight="bold" fill="#fff" textLength="98.47" lengthAdjust="spacingAndGlyphs">DIGITAL AUDIO</text>
<rect x="411.75" y="1093.75" width="21.25" height="9.55" fill="#fff"/>
<text x="422.38" y="1102" font-size="10.5" text-anchor="middle" font-weight="bold" fill="#c1c1c1">IN</text>
<text x="439.95" y="1102.8" font-size="11.05" font-weight="bold" fill="#fff" textLength="79.32" lengthAdjust="spacingAndGlyphs">(ASSIGNABLE)</text>
<text x="297.5" y="1008.75" font-size="10.9" text-anchor="middle" font-weight="bold" fill="#c1c1c1">1</text>
<text x="273.29" y="1020" font-size="10.9" font-weight="bold" fill="#c1c1c1" textLength="48.81" lengthAdjust="spacingAndGlyphs">CBL/SAT</text>
<text x="371.25" y="1008.75" font-size="10.9" text-anchor="middle" font-weight="bold" fill="#c1c1c1">2</text>
<text x="371.25" y="1020" font-size="10.9" text-anchor="middle" font-weight="bold" fill="#c1c1c1">DVD</text>
<text x="457.5" y="1008.75" font-size="10.9" text-anchor="middle" font-weight="bold" fill="#c1c1c1">1</text>
<text x="457.5" y="1020" font-size="10.9" text-anchor="middle" font-weight="bold" fill="#c1c1c1">TV</text>
<text x="457.5" y="1030.5" font-size="10.9" text-anchor="middle" font-weight="bold" fill="#c1c1c1" textLength="30" lengthAdjust="spacingAndGlyphs">AUDIO</text>
<text x="529.25" y="1009.5" font-size="10.9" text-anchor="middle" font-weight="bold" fill="#c1c1c1">2</text>
<text x="529.25" y="1020" font-size="10.9" text-anchor="middle" font-weight="bold" fill="#c1c1c1" textLength="32" lengthAdjust="spacingAndGlyphs">MEDIA</text>
<text x="529.25" y="1030.75" font-size="10.9" text-anchor="middle" font-weight="bold" fill="#c1c1c1" textLength="35" lengthAdjust="spacingAndGlyphs">PLAYER</text>
<text x="342.5" y="1085.5" font-size="10.9" text-anchor="middle" font-weight="bold" fill="#c1c1c1" textLength="48" lengthAdjust="spacingAndGlyphs">COAXIAL</text>
<text x="529.25" y="1085.75" font-size="10.9" text-anchor="middle" font-weight="bold" fill="#c1c1c1" textLength="46" lengthAdjust="spacingAndGlyphs">OPTICAL</text>
<circle cx="311.75" cy="1050.5" r="21.7" fill="none" stroke="#c1c1c1" stroke-width="2"/>
<circle cx="311.75" cy="1050.5" r="18" fill="none" stroke="#c1c1c1" stroke-width="2"/>
<circle cx="311.75" cy="1050.5" r="14.1" fill="none" stroke="#c1c1c1" stroke-width="2"/>
<circle cx="311.75" cy="1050.5" r="8.1" fill="none" stroke="#c1c1c1" stroke-width="2.5"/>
<circle cx="371.25" cy="1050.5" r="21.7" fill="none" stroke="#c1c1c1" stroke-width="2"/>
<circle cx="371.25" cy="1050.5" r="18" fill="none" stroke="#c1c1c1" stroke-width="2"/>
<circle cx="371.25" cy="1050.5" r="14.1" fill="none" stroke="#c1c1c1" stroke-width="2"/>
<circle cx="371.25" cy="1050.5" r="8.1" fill="none" stroke="#c1c1c1" stroke-width="2.5"/>
<rect x="477.15" y="1034.1" width="42.6" height="36.9" fill="none" stroke="#c1c1c1" stroke-width="1.9"/>
<path d="M484.25,1038.8 H512.75 V1046 Q516.75,1050 512.75,1054 L504.25,1066.3 H492.75 L484.25,1054 Q480.25,1050 484.25,1046 Z" fill="#fff" stroke="#c1c1c1" stroke-width="3.6"/>
<path d="M484.25,1038.8 H512.75 V1046 Q516.75,1050 512.75,1054 L504.25,1066.3 H492.75 L484.25,1054 Q480.25,1050 484.25,1046 Z" fill="none" stroke="#fff" stroke-width="1"/>
<rect x="538.4" y="1034.1" width="42.6" height="36.9" fill="none" stroke="#c1c1c1" stroke-width="1.9"/>
<path d="M545.5,1038.8 H574 V1046 Q578,1050 574,1054 L565.5,1066.3 H554 L545.5,1054 Q541.5,1050 545.5,1046 Z" fill="#fff" stroke="#c1c1c1" stroke-width="3.6"/>
<path d="M545.5,1038.8 H574 V1046 Q578,1050 574,1054 L565.5,1066.3 H554 L545.5,1054 Q541.5,1050 545.5,1046 Z" fill="none" stroke="#fff" stroke-width="1"/>
<path d="M104.5,1123 V1116.75 Q104.5,1108.75 112.5,1108.75 H225.75 Q233.75,1108.75 233.75,1116.75 V1123 Z" fill="#c1c1c1"/>
<rect x="105.5" y="1109.75" width="127.25" height="165" fill="none" stroke="#c1c1c1" stroke-width="2" rx="8"/>
<text x="138.92" y="1121.25" font-size="14.53" font-weight="bold" fill="#fff" textLength="63.95" lengthAdjust="spacingAndGlyphs">ANTENNA</text>
<circle cx="153.75" cy="1150.5" r="22.6" fill="none" stroke="#c1c1c1" stroke-width="2"/>
<circle cx="153.75" cy="1150.5" r="16" fill="none" stroke="#c1c1c1" stroke-width="2"/>
<circle cx="153.75" cy="1150.5" r="3.8" fill="none" stroke="#c1c1c1" stroke-width="2"/>
<text x="192.5" y="1149.5" font-size="11.6" font-weight="bold" fill="#c1c1c1" textLength="17.5" lengthAdjust="spacingAndGlyphs">FM</text>
<text x="192.5" y="1161.25" font-size="11.6" font-weight="bold" fill="#c1c1c1" textLength="22.5" lengthAdjust="spacingAndGlyphs">75&#937;</text>
<text x="192.5" y="1210.5" font-size="11.6" font-weight="bold" fill="#c1c1c1" textLength="19" lengthAdjust="spacingAndGlyphs">AM</text>
<rect x="140.5" y="1211.75" width="45.25" height="48.25" fill="none" stroke="#c1c1c1" stroke-width="1.9"/>
<line x1="161.75" y1="1211.75" x2="161.75" y2="1260" stroke="#c1c1c1" stroke-width="1.9"/>
<rect x="165.3" y="1218.5" width="16.2" height="10.5" fill="none" stroke="#c1c1c1" stroke-width="2.4"/>
<rect x="165.3" y="1242.3" width="16.2" height="11.2" fill="none" stroke="#c1c1c1" stroke-width="2.4"/>
<polygon points="137.5,1222 157.5,1217.5 157.5,1254.5 137.5,1250" fill="#dcdcdc" stroke="#c1c1c1" stroke-width="1.2"/>
<line x1="140.5" y1="1221" x2="140.5" y2="1251" stroke="#c1c1c1" stroke-width="0.9"/>
<line x1="143.5" y1="1221" x2="143.5" y2="1251" stroke="#c1c1c1" stroke-width="0.9"/>
<line x1="146.5" y1="1221" x2="146.5" y2="1251" stroke="#c1c1c1" stroke-width="0.9"/>
<line x1="149.5" y1="1221" x2="149.5" y2="1251" stroke="#c1c1c1" stroke-width="0.9"/>
<line x1="152.5" y1="1221" x2="152.5" y2="1251" stroke="#c1c1c1" stroke-width="0.9"/>
<line x1="155.5" y1="1221" x2="155.5" y2="1251" stroke="#c1c1c1" stroke-width="0.9"/>
<polyline points="185.75,1224.25 203.75,1224.25 203.75,1238.25" fill="none" stroke="#c1c1c1" stroke-width="1.3"/>
<line x1="193" y1="1238.25" x2="212.5" y2="1238.25" stroke="#c1c1c1" stroke-width="1.5"/>
<line x1="197" y1="1238.25" x2="193" y2="1250" stroke="#c1c1c1" stroke-width="1.3"/>
<line x1="202.5" y1="1238.25" x2="198.5" y2="1250" stroke="#c1c1c1" stroke-width="1.3"/>
<line x1="208" y1="1238.25" x2="204" y2="1250" stroke="#c1c1c1" stroke-width="1.3"/>
<path d="M236.75,1123 V1116.75 Q236.75,1108.75 244.75,1108.75 H325.75 Q333.75,1108.75 333.75,1116.75 V1123 Z" fill="#c1c1c1"/>
<rect x="237.75" y="1109.75" width="95" height="118" fill="none" stroke="#c1c1c1" stroke-width="2" rx="8"/>
<text x="242.88" y="1121.25" font-size="14.53" font-weight="bold" fill="#fff" textLength="84.74" lengthAdjust="spacingAndGlyphs">TRIGGER OUT</text>
<text x="300" y="1153.75" font-size="12" text-anchor="middle" font-weight="bold" fill="#c1c1c1" textLength="32" lengthAdjust="spacingAndGlyphs">DC12V</text>
<text x="300" y="1165.5" font-size="12" text-anchor="middle" font-weight="bold" fill="#c1c1c1" textLength="60" lengthAdjust="spacingAndGlyphs">150mA MAX.</text>
<circle cx="310.75" cy="1192" r="14.3" fill="none" stroke="#c1c1c1" stroke-width="2"/>
<circle cx="310.75" cy="1192" r="7.6" fill="none" stroke="#c1c1c1" stroke-width="2.5"/>
<path d="M337,1123 V1116.75 Q337,1108.75 345,1108.75 H465.75 Q473.75,1108.75 473.75,1116.75 V1123 Z" fill="#c1c1c1"/>
<rect x="338" y="1109.75" width="134.75" height="118" fill="none" stroke="#c1c1c1" stroke-width="2" rx="8"/>
<text x="377.12" y="1121.25" font-size="14.53" font-weight="bold" fill="#fff" textLength="55.76" lengthAdjust="spacingAndGlyphs">RS-232C</text>
<text x="405" y="1153.75" font-size="12" text-anchor="middle" font-weight="bold" fill="#c1c1c1" textLength="53" lengthAdjust="spacingAndGlyphs">STRAIGHT</text>
<text x="405" y="1165.5" font-size="12" text-anchor="middle" font-weight="bold" fill="#c1c1c1" textLength="36" lengthAdjust="spacingAndGlyphs">CABLE</text>
<path d="M372,1174.6 H438 Q444.5,1174.6 443.6,1181 L439.5,1205.5 Q438.4,1212 432,1212 H378 Q371.6,1212 370.5,1205.5 L366.4,1181 Q365.5,1174.6 372,1174.6 Z" fill="none" stroke="#c1c1c1" stroke-width="2"/>
<circle cx="378" cy="1186.25" r="3.1" fill="none" stroke="#c1c1c1" stroke-width="1.8"/>
<circle cx="391.25" cy="1186.25" r="3.1" fill="none" stroke="#c1c1c1" stroke-width="1.8"/>
<circle cx="405" cy="1186.25" r="3.1" fill="none" stroke="#c1c1c1" stroke-width="1.8"/>
<circle cx="418.25" cy="1186.25" r="3.1" fill="none" stroke="#c1c1c1" stroke-width="1.8"/>
<circle cx="431.75" cy="1186.25" r="3.1" fill="none" stroke="#c1c1c1" stroke-width="1.8"/>
<circle cx="385" cy="1200" r="3.1" fill="none" stroke="#c1c1c1" stroke-width="1.8"/>
<circle cx="398" cy="1200" r="3.1" fill="none" stroke="#c1c1c1" stroke-width="1.8"/>
<circle cx="411.5" cy="1200" r="3.1" fill="none" stroke="#c1c1c1" stroke-width="1.8"/>
<circle cx="425" cy="1200" r="3.1" fill="none" stroke="#c1c1c1" stroke-width="1.8"/>
<path d="M477,1123.5 V1117.5 Q477,1109.5 485,1109.5 H581.5 Q589.5,1109.5 589.5,1117.5 V1123.5 Z" fill="#c1c1c1"/>
<rect x="478" y="1110.5" width="110.5" height="116.75" fill="none" stroke="#c1c1c1" stroke-width="2" rx="8"/>
<text x="480.52" y="1121.25" font-size="14.53" font-weight="bold" fill="#fff" textLength="106.06" lengthAdjust="spacingAndGlyphs">REMOTE CONTROL</text>
<text x="522" y="1139.5" font-size="13.6" text-anchor="middle" font-weight="bold" fill="#c1c1c1">IR</text>
<rect x="487" y="1149.8" width="26" height="14.6" fill="none" stroke="#c1c1c1" stroke-width="1.9"/>
<text x="500" y="1161.6" font-size="11.2" text-anchor="middle" font-weight="bold" fill="#c1c1c1">IN</text>
<rect x="532.5" y="1149" width="27.5" height="16" fill="#c1c1c1"/>
<text x="546.25" y="1161.6" font-size="11.2" text-anchor="middle" font-weight="bold" fill="#fff">OUT</text>
<circle cx="500" cy="1192" r="14.3" fill="none" stroke="#c1c1c1" stroke-width="2"/>
<circle cx="500" cy="1192" r="7.6" fill="none" stroke="#c1c1c1" stroke-width="2.5"/>
<circle cx="546.25" cy="1192" r="14.3" fill="none" stroke="#c1c1c1" stroke-width="2"/>
<circle cx="546.25" cy="1192" r="7.6" fill="none" stroke="#c1c1c1" stroke-width="2.5"/>
<path d="M593.25,1097 V1091.25 Q593.25,1083.25 601.25,1083.25 H749.5 Q757.5,1083.25 757.5,1091.25 V1097 Z" fill="#c1c1c1"/>
<rect x="594.25" y="1084.25" width="162.25" height="143" fill="none" stroke="#c1c1c1" stroke-width="2" rx="8"/>
<text x="606.12" y="1095" font-size="13.52" font-weight="bold" fill="#fff" textLength="39.41" lengthAdjust="spacingAndGlyphs">VIDEO</text>
<rect x="650" y="1085.75" width="21.25" height="10" fill="#fff"/>
<text x="660.62" y="1094.45" font-size="10.5" text-anchor="middle" font-weight="bold" fill="#c1c1c1">IN</text>
<text x="674.99" y="1094.6" font-size="11.05" font-weight="bold" fill="#fff" textLength="73.49" lengthAdjust="spacingAndGlyphs">(ASSIGNABLE)</text>
<circle cx="672" cy="1132" r="21.7" fill="none" stroke="#c1c1c1" stroke-width="2"/>
<circle cx="672" cy="1132" r="18" fill="none" stroke="#c1c1c1" stroke-width="2"/>
<circle cx="672" cy="1132" r="14.1" fill="none" stroke="#c1c1c1" stroke-width="2"/>
<circle cx="672" cy="1132" r="8.1" fill="none" stroke="#c1c1c1" stroke-width="2.5"/>
<circle cx="672" cy="1192" r="21.7" fill="none" stroke="#c1c1c1" stroke-width="2"/>
<circle cx="672" cy="1192" r="18" fill="none" stroke="#c1c1c1" stroke-width="2"/>
<circle cx="672" cy="1192" r="14.1" fill="none" stroke="#c1c1c1" stroke-width="2"/>
<circle cx="672" cy="1192" r="8.1" fill="none" stroke="#c1c1c1" stroke-width="2.5"/>
<circle cx="731.75" cy="1192" r="21.7" fill="none" stroke="#c1c1c1" stroke-width="2"/>
<circle cx="731.75" cy="1192" r="18" fill="none" stroke="#c1c1c1" stroke-width="2"/>
<circle cx="731.75" cy="1192" r="14.1" fill="none" stroke="#c1c1c1" stroke-width="2"/>
<circle cx="731.75" cy="1192" r="8.1" fill="none" stroke="#c1c1c1" stroke-width="2.5"/>
<text x="631.25" y="1127" font-size="10.9" text-anchor="middle" font-weight="bold" fill="#c1c1c1">1</text>
<text x="631.25" y="1135.75" font-size="10.9" text-anchor="middle" font-weight="bold" fill="#c1c1c1">CBL/</text>
<text x="631.25" y="1144" font-size="10.9" text-anchor="middle" font-weight="bold" fill="#c1c1c1">SAT</text>
<text x="631.25" y="1205.75" font-size="10.9" text-anchor="middle" font-weight="bold" fill="#c1c1c1">2</text>
<text x="631.25" y="1214.5" font-size="10.9" text-anchor="middle" font-weight="bold" fill="#c1c1c1" textLength="40" lengthAdjust="spacingAndGlyphs">Blu-ray</text>
<text x="707.73" y="1225.25" font-size="10.9" font-weight="bold" fill="#c1c1c1" textLength="41.44" lengthAdjust="spacingAndGlyphs">3 GAME</text>
<path d="M760.75,1097 V1091.25 Q760.75,1083.25 768.75,1083.25 H931 Q939,1083.25 939,1091.25 V1097 Z" fill="#c1c1c1"/>
<rect x="761.75" y="1084.25" width="176.25" height="143" fill="none" stroke="#c1c1c1" stroke-width="2" rx="8"/>
<text x="771.23" y="1095" font-size="13.52" font-weight="bold" fill="#fff" textLength="127.34" lengthAdjust="spacingAndGlyphs">COMPONENT VIDEO</text>
<rect x="903" y="1085.75" width="20.75" height="10" fill="#fff"/>
<text x="913.38" y="1094.45" font-size="10.5" text-anchor="middle" font-weight="bold" fill="#c1c1c1">IN</text>
<path d="M861.25,1097 H938 V1109.5 H868 Q861.25,1109.5 861.25,1103 Z" fill="#c1c1c1"/>
<text x="863.25" y="1106.5" font-size="11.05" font-weight="bold" fill="#fff" textLength="72.73" lengthAdjust="spacingAndGlyphs">(ASSIGNABLE)</text>
<text x="767.98" y="1107.75" font-size="11.05" font-weight="bold" fill="#c1c1c1" textLength="35" lengthAdjust="spacingAndGlyphs">1 DVD</text>
<circle cx="792.5" cy="1132" r="21.7" fill="none" stroke="#c1c1c1" stroke-width="2"/>
<circle cx="792.5" cy="1132" r="18" fill="none" stroke="#c1c1c1" stroke-width="2"/>
<circle cx="792.5" cy="1132" r="14.1" fill="none" stroke="#c1c1c1" stroke-width="2"/>
<circle cx="792.5" cy="1132" r="8.1" fill="none" stroke="#c1c1c1" stroke-width="2.5"/>
<circle cx="792.5" cy="1192" r="21.7" fill="none" stroke="#c1c1c1" stroke-width="2"/>
<circle cx="792.5" cy="1192" r="18" fill="none" stroke="#c1c1c1" stroke-width="2"/>
<circle cx="792.5" cy="1192" r="14.1" fill="none" stroke="#c1c1c1" stroke-width="2"/>
<circle cx="792.5" cy="1192" r="8.1" fill="none" stroke="#c1c1c1" stroke-width="2.5"/>
<circle cx="852.5" cy="1132" r="21.7" fill="none" stroke="#c1c1c1" stroke-width="2"/>
<circle cx="852.5" cy="1132" r="18" fill="none" stroke="#c1c1c1" stroke-width="2"/>
<circle cx="852.5" cy="1132" r="14.1" fill="none" stroke="#c1c1c1" stroke-width="2"/>
<circle cx="852.5" cy="1132" r="8.1" fill="none" stroke="#c1c1c1" stroke-width="2.5"/>
<circle cx="852.5" cy="1192" r="21.7" fill="none" stroke="#c1c1c1" stroke-width="2"/>
<circle cx="852.5" cy="1192" r="18" fill="none" stroke="#c1c1c1" stroke-width="2"/>
<circle cx="852.5" cy="1192" r="14.1" fill="none" stroke="#c1c1c1" stroke-width="2"/>
<circle cx="852.5" cy="1192" r="8.1" fill="none" stroke="#c1c1c1" stroke-width="2.5"/>
<circle cx="913" cy="1132" r="21.7" fill="none" stroke="#c1c1c1" stroke-width="2"/>
<circle cx="913" cy="1132" r="18" fill="none" stroke="#c1c1c1" stroke-width="2"/>
<circle cx="913" cy="1132" r="14.1" fill="none" stroke="#c1c1c1" stroke-width="2"/>
<circle cx="913" cy="1132" r="8.1" fill="none" stroke="#c1c1c1" stroke-width="2.5"/>
<circle cx="913" cy="1192" r="21.7" fill="none" stroke="#c1c1c1" stroke-width="2"/>
<circle cx="913" cy="1192" r="18" fill="none" stroke="#c1c1c1" stroke-width="2"/>
<circle cx="913" cy="1192" r="14.1" fill="none" stroke="#c1c1c1" stroke-width="2"/>
<circle cx="913" cy="1192" r="8.1" fill="none" stroke="#c1c1c1" stroke-width="2.5"/>
<text x="792.5" y="1166.25" font-size="10.9" text-anchor="middle" font-weight="bold" fill="#c1c1c1">Y</text>
<line x1="765" y1="1162" x2="783.5" y2="1162" stroke="#c1c1c1" stroke-width="1.3"/>
<line x1="802" y1="1162" x2="820" y2="1162" stroke="#c1c1c1" stroke-width="1.3"/>
<text x="852.5" y="1166.25" font-size="10.6" text-anchor="middle" font-weight="bold" fill="#c1c1c1" textLength="29" lengthAdjust="spacingAndGlyphs">P<tspan font-size="8">B</tspan>/C<tspan font-size="8">B</tspan></text>
<text x="913" y="1166.25" font-size="10.6" text-anchor="middle" font-weight="bold" fill="#c1c1c1" textLength="30" lengthAdjust="spacingAndGlyphs">P<tspan font-size="8">R</tspan>/C<tspan font-size="8">R</tspan></text>
<line x1="931" y1="1162" x2="938" y2="1162" stroke="#c1c1c1" stroke-width="1.3"/>
<text x="768.38" y="1225.25" font-size="10.9" font-weight="bold" fill="#c1c1c1" textLength="88.1" lengthAdjust="spacingAndGlyphs">2 MEDIA PLAYER</text>
<rect x="237.75" y="1233.5" width="103" height="65.5" fill="none" stroke="#c1c1c1" stroke-width="2" rx="8"/>
<text x="291.27" y="1243.3" font-size="10.9" font-weight="bold" fill="#c1c1c1" textLength="41.2" lengthAdjust="spacingAndGlyphs">PHONO</text>
<circle cx="311.75" cy="1268" r="21.7" fill="none" stroke="#c1c1c1" stroke-width="2"/>
<circle cx="311.75" cy="1268" r="18" fill="none" stroke="#c1c1c1" stroke-width="2"/>
<circle cx="311.75" cy="1268" r="14.1" fill="none" stroke="#c1c1c1" stroke-width="2"/>
<circle cx="311.75" cy="1268" r="8.1" fill="none" stroke="#c1c1c1" stroke-width="2.5"/>
<rect x="263.25" y="1262" width="13" height="12.25" fill="#c1c1c1" rx="2.5"/>
<text x="269.8" y="1272.3" font-size="10.5" text-anchor="middle" font-weight="bold" fill="#fff">L</text>
<text x="366.75" y="1243" font-size="11.2" text-anchor="middle" font-weight="bold" fill="#c1c1c1" textLength="41" lengthAdjust="spacingAndGlyphs">SIGNAL</text>
<text x="387.5" y="1255" font-size="11.2" text-anchor="end" font-weight="bold" fill="#c1c1c1" textLength="24" lengthAdjust="spacingAndGlyphs">GND</text>
<path d="M391.6,1300 V1244 Q391.6,1232.3 403,1232.3 H694 Q702.5,1232.3 702.5,1241 V1300" fill="none" stroke="#c1c1c1" stroke-width="2"/>
<g fill="#fff" stroke="#c1c1c1" stroke-width="1.7">
<rect x="-7.5" y="-3.4" width="15" height="6.8" rx="3.2" transform="translate(365.5,1277.5) rotate(40)"/>
<rect x="-7.5" y="-3.4" width="15" height="6.8" rx="3.2" transform="translate(395.5,1277.5) rotate(-40)"/>
</g>
<circle cx="380.3" cy="1286.5" r="12.8" fill="#fff" stroke="#c1c1c1" stroke-width="1.7"/>
<circle cx="380.3" cy="1286.5" r="9.5" fill="none" stroke="#c1c1c1" stroke-width="1.7"/>
<text x="401.73" y="1243.3" font-size="10.9" font-weight="bold" fill="#c1c1c1" textLength="60.42" lengthAdjust="spacingAndGlyphs">1 CBL/SAT</text>
<circle cx="432" cy="1268.25" r="21.7" fill="none" stroke="#c1c1c1" stroke-width="2"/>
<circle cx="432" cy="1268.25" r="18" fill="none" stroke="#c1c1c1" stroke-width="2"/>
<circle cx="432" cy="1268.25" r="14.1" fill="none" stroke="#c1c1c1" stroke-width="2"/>
<circle cx="432" cy="1268.25" r="8.1" fill="none" stroke="#c1c1c1" stroke-width="2.5"/>
<text x="475.1" y="1243.3" font-size="10.9" font-weight="bold" fill="#c1c1c1" textLength="33.35" lengthAdjust="spacingAndGlyphs">2 DVD</text>
<circle cx="492" cy="1268.25" r="21.7" fill="none" stroke="#c1c1c1" stroke-width="2"/>
<circle cx="492" cy="1268.25" r="18" fill="none" stroke="#c1c1c1" stroke-width="2"/>
<circle cx="492" cy="1268.25" r="14.1" fill="none" stroke="#c1c1c1" stroke-width="2"/>
<circle cx="492" cy="1268.25" r="8.1" fill="none" stroke="#c1c1c1" stroke-width="2.5"/>
<text x="528.48" y="1243.3" font-size="10.9" font-weight="bold" fill="#c1c1c1" textLength="47.07" lengthAdjust="spacingAndGlyphs">3 Blu-ray</text>
<circle cx="552" cy="1268.25" r="21.7" fill="none" stroke="#c1c1c1" stroke-width="2"/>
<circle cx="552" cy="1268.25" r="18" fill="none" stroke="#c1c1c1" stroke-width="2"/>
<circle cx="552" cy="1268.25" r="14.1" fill="none" stroke="#c1c1c1" stroke-width="2"/>
<circle cx="552" cy="1268.25" r="8.1" fill="none" stroke="#c1c1c1" stroke-width="2.5"/>
<text x="591.08" y="1243.3" font-size="10.9" font-weight="bold" fill="#c1c1c1" textLength="42.35" lengthAdjust="spacingAndGlyphs">4 GAME</text>
<circle cx="612" cy="1268.25" r="21.7" fill="none" stroke="#c1c1c1" stroke-width="2"/>
<circle cx="612" cy="1268.25" r="18" fill="none" stroke="#c1c1c1" stroke-width="2"/>
<circle cx="612" cy="1268.25" r="14.1" fill="none" stroke="#c1c1c1" stroke-width="2"/>
<circle cx="612" cy="1268.25" r="8.1" fill="none" stroke="#c1c1c1" stroke-width="2.5"/>
<text x="659.67" y="1243.3" font-size="10.9" font-weight="bold" fill="#c1c1c1" textLength="25.32" lengthAdjust="spacingAndGlyphs">5 CD</text>
<circle cx="672" cy="1268.25" r="21.7" fill="none" stroke="#c1c1c1" stroke-width="2"/>
<circle cx="672" cy="1268.25" r="18" fill="none" stroke="#c1c1c1" stroke-width="2"/>
<circle cx="672" cy="1268.25" r="14.1" fill="none" stroke="#c1c1c1" stroke-width="2"/>
<circle cx="672" cy="1268.25" r="8.1" fill="none" stroke="#c1c1c1" stroke-width="2.5"/>
<path d="M702,1300 V1240 Q702,1232.9 709,1232.9 H1185 Q1192.4,1232.9 1192.4,1240.5 V1300 Z" fill="url(#dots2)" stroke="#c1c1c1" stroke-width="2"/>
<line x1="762.4" y1="1233" x2="762.4" y2="1300" stroke="#c1c1c1" stroke-width="2"/>
<rect x="710.25" y="1234.4" width="43.25" height="10.8" fill="#fff"/>
<text x="713.42" y="1243.3" font-size="10.9" font-weight="bold" fill="#c1c1c1" textLength="37.02" lengthAdjust="spacingAndGlyphs">ZONE2</text>
<circle cx="731.75" cy="1268.25" r="23.2" fill="#fff"/>
<circle cx="731.75" cy="1268.25" r="21.7" fill="none" stroke="#c1c1c1" stroke-width="2"/>
<circle cx="731.75" cy="1268.25" r="18" fill="none" stroke="#c1c1c1" stroke-width="2"/>
<circle cx="731.75" cy="1268.25" r="14.1" fill="none" stroke="#c1c1c1" stroke-width="2"/>
<circle cx="731.75" cy="1268.25" r="8.1" fill="none" stroke="#c1c1c1" stroke-width="2.5"/>
<rect x="770.25" y="1234.4" width="44.5" height="10.8" fill="#fff"/>
<text x="773.03" y="1243.3" font-size="10.9" font-weight="bold" fill="#c1c1c1" textLength="38.32" lengthAdjust="spacingAndGlyphs">FRONT</text>
<circle cx="792.5" cy="1268.25" r="23.2" fill="#fff"/>
<circle cx="792.5" cy="1268.25" r="21.7" fill="none" stroke="#c1c1c1" stroke-width="2"/>
<circle cx="792.5" cy="1268.25" r="18" fill="none" stroke="#c1c1c1" stroke-width="2"/>
<circle cx="792.5" cy="1268.25" r="14.1" fill="none" stroke="#c1c1c1" stroke-width="2"/>
<circle cx="792.5" cy="1268.25" r="8.1" fill="none" stroke="#c1c1c1" stroke-width="2.5"/>
<rect x="826.5" y="1234.4" width="52" height="10.8" fill="#fff"/>
<text x="829.56" y="1243.3" font-size="10.9" font-weight="bold" fill="#c1c1c1" textLength="45.68" lengthAdjust="spacingAndGlyphs">CENTER</text>
<circle cx="852.5" cy="1268.25" r="23.2" fill="#fff"/>
<circle cx="852.5" cy="1268.25" r="21.7" fill="none" stroke="#c1c1c1" stroke-width="2"/>
<circle cx="852.5" cy="1268.25" r="18" fill="none" stroke="#c1c1c1" stroke-width="2"/>
<circle cx="852.5" cy="1268.25" r="14.1" fill="none" stroke="#c1c1c1" stroke-width="2"/>
<circle cx="852.5" cy="1268.25" r="8.1" fill="none" stroke="#c1c1c1" stroke-width="2.5"/>
<rect x="945.75" y="1234.4" width="54" height="10.8" fill="#fff"/>
<text x="949" y="1243.3" font-size="10.9" font-weight="bold" fill="#c1c1c1" textLength="47.6" lengthAdjust="spacingAndGlyphs">SURROUND</text>
<circle cx="972.5" cy="1268.25" r="23.2" fill="#fff"/>
<circle cx="972.5" cy="1268.25" r="21.7" fill="none" stroke="#c1c1c1" stroke-width="2"/>
<circle cx="972.5" cy="1268.25" r="18" fill="none" stroke="#c1c1c1" stroke-width="2"/>
<circle cx="972.5" cy="1268.25" r="14.1" fill="none" stroke="#c1c1c1" stroke-width="2"/>
<circle cx="972.5" cy="1268.25" r="8.1" fill="none" stroke="#c1c1c1" stroke-width="2.5"/>
<rect x="996.5" y="1234.4" width="73.25" height="10.8" fill="#fff"/>
<text x="999.78" y="1243.3" font-size="10.9" font-weight="bold" fill="#c1c1c1" textLength="66.58" lengthAdjust="spacingAndGlyphs">SURROUND BACK</text>
<circle cx="1032.5" cy="1268.25" r="23.2" fill="#fff"/>
<circle cx="1032.5" cy="1268.25" r="21.7" fill="none" stroke="#c1c1c1" stroke-width="2"/>
<circle cx="1032.5" cy="1268.25" r="18" fill="none" stroke="#c1c1c1" stroke-width="2"/>
<circle cx="1032.5" cy="1268.25" r="14.1" fill="none" stroke="#c1c1c1" stroke-width="2"/>
<circle cx="1032.5" cy="1268.25" r="8.1" fill="none" stroke="#c1c1c1" stroke-width="2.5"/>
<rect x="1066" y="1234.4" width="53.75" height="10.8" fill="#fff"/>
<text x="1068.78" y="1243.3" font-size="10.9" font-weight="bold" fill="#c1c1c1" textLength="47.73" lengthAdjust="spacingAndGlyphs">HEIGHT1</text>
<circle cx="1093" cy="1268.25" r="23.2" fill="#fff"/>
<circle cx="1093" cy="1268.25" r="21.7" fill="none" stroke="#c1c1c1" stroke-width="2"/>
<circle cx="1093" cy="1268.25" r="18" fill="none" stroke="#c1c1c1" stroke-width="2"/>
<circle cx="1093" cy="1268.25" r="14.1" fill="none" stroke="#c1c1c1" stroke-width="2"/>
<circle cx="1093" cy="1268.25" r="8.1" fill="none" stroke="#c1c1c1" stroke-width="2.5"/>
<rect x="1126" y="1234.4" width="53.75" height="10.8" fill="#fff"/>
<text x="1128.78" y="1243.3" font-size="10.9" font-weight="bold" fill="#c1c1c1" textLength="47.9" lengthAdjust="spacingAndGlyphs">HEIGHT2</text>
<circle cx="1153" cy="1268.25" r="23.2" fill="#fff"/>
<circle cx="1153" cy="1268.25" r="21.7" fill="none" stroke="#c1c1c1" stroke-width="2"/>
<circle cx="1153" cy="1268.25" r="18" fill="none" stroke="#c1c1c1" stroke-width="2"/>
<circle cx="1153" cy="1268.25" r="14.1" fill="none" stroke="#c1c1c1" stroke-width="2"/>
<circle cx="1153" cy="1268.25" r="8.1" fill="none" stroke="#c1c1c1" stroke-width="2.5"/>
<rect x="593.5" y="990" width="93" height="89" fill="#c1c1c1" stroke="#000" stroke-width="2" rx="8"/>
<path d="M592.5,1003.3 V997 Q592.5,989 600.5,989 H679.5 Q687.5,989 687.5,997 V1003.3 Z" fill="#000"/>
<text x="605.89" y="1001.25" font-size="14.53" font-weight="bold" fill="#fff" textLength="68" lengthAdjust="spacingAndGlyphs">NETWORK</text>
<rect x="608.5" y="1026" width="65" height="52.3" fill="#fff" stroke="#000" stroke-width="2"/>
<path d="M615.5,1035.5 H666.5 V1062 H656.5 V1067 H651 V1071.3 H631 V1067 H625.5 V1062 H615.5 Z" fill="none" stroke="#000" stroke-width="2"/>
<path d="M691.25,1003.25 V997 Q691.25,989 699.25,989 H1394.5 Q1402.5,989 1402.5,997 V1003.25 Z" fill="#c1c1c1"/>
<rect x="692.25" y="990" width="709.25" height="88.5" fill="none" stroke="#c1c1c1" stroke-width="2" rx="8"/>
<text x="889.09" y="1001.25" font-size="13.66" font-weight="bold" fill="#fff" textLength="35.64" lengthAdjust="spacingAndGlyphs">HDMI</text>
<rect x="932" y="991.5" width="21.75" height="10.1" fill="#fff"/>
<text x="942.88" y="1000.3" font-size="10.5" text-anchor="middle" font-weight="bold" fill="#c1c1c1">IN</text>
<text x="1017.79" y="1001.25" font-size="13.66" font-weight="bold" fill="#fff" textLength="87.2" lengthAdjust="spacingAndGlyphs">4K / HDCP2.3</text>
<text x="1111.45" y="1000.8" font-size="11.05" font-weight="bold" fill="#fff" textLength="79.57" lengthAdjust="spacingAndGlyphs">(ASSIGNABLE)</text>
<text x="783.75" y="1019" font-size="14.5" text-anchor="middle" font-weight="bold" fill="#c1c1c1">1</text>
<text x="870.5" y="1019" font-size="14.5" text-anchor="middle" font-weight="bold" fill="#c1c1c1">2</text>
<text x="980.75" y="1019" font-size="14.5" text-anchor="middle" font-weight="bold" fill="#c1c1c1">3</text>
<text x="1083" y="1019" font-size="14.5" text-anchor="middle" font-weight="bold" fill="#c1c1c1">4</text>
<text x="1188.75" y="1019" font-size="14.5" text-anchor="middle" font-weight="bold" fill="#c1c1c1">5</text>
<text x="1287.5" y="1019" font-size="14.5" text-anchor="middle" font-weight="bold" fill="#c1c1c1">6</text>
<text x="1381" y="1019" font-size="14.5" text-anchor="middle" font-weight="bold" fill="#c1c1c1">7</text>
<text x="765.43" y="1031.5" font-size="13.44" font-weight="bold" fill="#c1c1c1" textLength="33.44" lengthAdjust="spacingAndGlyphs">CBL/</text>
<text x="855.32" y="1032" font-size="13.44" font-weight="bold" fill="#c1c1c1" textLength="30.28" lengthAdjust="spacingAndGlyphs">DVD</text>
<text x="958.67" y="1032" font-size="13.44" font-weight="bold" fill="#c1c1c1" textLength="43.9" lengthAdjust="spacingAndGlyphs">Blu-ray</text>
<text x="1061.94" y="1032" font-size="13.44" font-weight="bold" fill="#c1c1c1" textLength="41.8" lengthAdjust="spacingAndGlyphs">GAME</text>
<text x="1169.22" y="1032" font-size="13.44" font-weight="bold" fill="#c1c1c1" textLength="38.61" lengthAdjust="spacingAndGlyphs">MEDIA</text>
<text x="1164.2" y="1044.5" font-size="13.44" font-weight="bold" fill="#c1c1c1" textLength="48.6" lengthAdjust="spacingAndGlyphs">PLAYER</text>
<text x="1268.4" y="1032" font-size="13.44" font-weight="bold" fill="#c1c1c1" textLength="37.71" lengthAdjust="spacingAndGlyphs">AUX2</text>
<text x="1371.45" y="1032" font-size="13.44" font-weight="bold" fill="#c1c1c1" textLength="19.91" lengthAdjust="spacingAndGlyphs">CD</text>
<path d="M805,1055.3 Q805,1052.3 808,1052.3 H867 Q870,1052.3 870,1055.3 V1067.8 L861.5,1076.3 H813.5 L805,1067.8 Z" fill="none" stroke="#c1c1c1" stroke-width="2"/>
<rect x="813.8" y="1063.3" width="47.4" height="5.2" fill="none" stroke="#c1c1c1" stroke-width="1.7"/>
<path d="M907.5,1055.3 Q907.5,1052.3 910.5,1052.3 H969.5 Q972.5,1052.3 972.5,1055.3 V1067.8 L964,1076.3 H916 L907.5,1067.8 Z" fill="none" stroke="#c1c1c1" stroke-width="2"/>
<rect x="916.3" y="1063.3" width="47.4" height="5.2" fill="none" stroke="#c1c1c1" stroke-width="1.7"/>
<path d="M1011.25,1055.3 Q1011.25,1052.3 1014.25,1052.3 H1073.25 Q1076.25,1052.3 1076.25,1055.3 V1067.8 L1067.75,1076.3 H1019.75 L1011.25,1067.8 Z" fill="none" stroke="#c1c1c1" stroke-width="2"/>
<rect x="1020.05" y="1063.3" width="47.4" height="5.2" fill="none" stroke="#c1c1c1" stroke-width="1.7"/>
<path d="M1115,1055.3 Q1115,1052.3 1118,1052.3 H1177 Q1180,1052.3 1180,1055.3 V1067.8 L1171.5,1076.3 H1123.5 L1115,1067.8 Z" fill="none" stroke="#c1c1c1" stroke-width="2"/>
<rect x="1123.8" y="1063.3" width="47.4" height="5.2" fill="none" stroke="#c1c1c1" stroke-width="1.7"/>
<path d="M1217,1055.3 Q1217,1052.3 1220,1052.3 H1279 Q1282,1052.3 1282,1055.3 V1067.8 L1273.5,1076.3 H1225.5 L1217,1067.8 Z" fill="none" stroke="#c1c1c1" stroke-width="2"/>
<rect x="1225.8" y="1063.3" width="47.4" height="5.2" fill="none" stroke="#c1c1c1" stroke-width="1.7"/>
<path d="M1320.5,1055.3 Q1320.5,1052.3 1323.5,1052.3 H1382.5 Q1385.5,1052.3 1385.5,1055.3 V1067.8 L1377,1076.3 H1329 L1320.5,1067.8 Z" fill="none" stroke="#c1c1c1" stroke-width="2"/>
<rect x="1329.3" y="1063.3" width="47.4" height="5.2" fill="none" stroke="#c1c1c1" stroke-width="1.7"/>
<path d="M1406.3,1079 V999 Q1406.3,989.6 1415.5,989.6 H1700 V1079 Z" fill="url(#dots)" stroke="#c1c1c1" stroke-width="2"/>
<path d="M1405.3,1004 V999 Q1405.3,989 1415.5,989 H1700 V1004 Z" fill="#c1c1c1"/>
<text x="1454.59" y="1001.25" font-size="13.66" font-weight="bold" fill="#fff" textLength="35.64" lengthAdjust="spacingAndGlyphs">HDMI</text>
<rect x="1498.1" y="992.1" width="21.3" height="9.3" fill="none" stroke="#fff" stroke-width="1.2"/>
<text x="1508.75" y="1000.3" font-size="10" text-anchor="middle" font-weight="bold" fill="#fff" textLength="18.5" lengthAdjust="spacingAndGlyphs">OUT</text>
<text x="1643.6" y="1001.25" font-size="13.6" font-weight="bold" fill="#fff" textLength="86.4" lengthAdjust="spacingAndGlyphs">4K / HDCP2.3</text>
<rect x="1470" y="1019.5" width="48.75" height="12.7" fill="#fff"/>
<text x="1475.64" y="1030" font-size="12.5" font-weight="bold" fill="#c1c1c1" textLength="40.34" lengthAdjust="spacingAndGlyphs">ZONE2</text>
<rect x="1523.75" y="1005.75" width="102.5" height="72.5" fill="#c1c1c1"/>
<text x="1624" y="1030" font-size="10.6" text-anchor="end" font-weight="bold" fill="#fff" textLength="46" lengthAdjust="spacingAndGlyphs">MONITOR1</text>
<text x="1624" y="1040.9" font-size="10.6" text-anchor="end" font-weight="bold" fill="#fff" textLength="45" lengthAdjust="spacingAndGlyphs">ARC / eARC</text>
<path d="M1424.5,1055.3 Q1424.5,1052.3 1427.5,1052.3 H1486.5 Q1489.5,1052.3 1489.5,1055.3 V1067.8 L1481,1076.3 H1433 L1424.5,1067.8 Z" fill="#fff" stroke="#c1c1c1" stroke-width="2"/>
<rect x="1433.3" y="1063.3" width="47.4" height="5.2" fill="#fff" stroke="#c1c1c1" stroke-width="1.7"/>
<path d="M1526,1055.3 Q1526,1052.3 1529,1052.3 H1588 Q1591,1052.3 1591,1055.3 V1067.8 L1582.5,1076.3 H1534.5 L1526,1067.8 Z" fill="#fff" stroke="#c1c1c1" stroke-width="2"/>
<rect x="1534.8" y="1063.3" width="47.4" height="5.2" fill="#fff" stroke="#c1c1c1" stroke-width="1.7"/>
<path d="M1630,1055.3 Q1630,1052.3 1633,1052.3 H1692 Q1695,1052.3 1695,1055.3 V1067.8 L1686.5,1076.3 H1638.5 L1630,1067.8 Z" fill="#fff" stroke="#c1c1c1" stroke-width="2"/>
<rect x="1638.8" y="1063.3" width="47.4" height="5.2" fill="#fff" stroke="#c1c1c1" stroke-width="1.7"/>
<rect x="1677.5" y="1019.5" width="30" height="12.7" fill="#fff"/>
<text x="1680" y="1030" font-size="10.6" font-weight="bold" fill="#c1c1c1">MONITOR2</text>
<path d="M1595.2,1300 V1218 Q1595.2,1198.4 1615,1198.4 H1672 Q1691.8,1198.4 1691.8,1218 V1300" fill="none" stroke="#c1c1c1" stroke-width="1.8"/>
<path d="M1609.4,1300 V1236 L1629,1212.7 H1670 Q1678,1212.7 1678,1221 V1300" fill="none" stroke="#c1c1c1" stroke-width="1.8"/>
<rect x="1634.9" y="1223.4" width="35" height="22" fill="none" stroke="#c1c1c1" stroke-width="1.8"/>
<rect x="1643.8" y="1230.2" width="17.6" height="8.4" fill="none" stroke="#c1c1c1" stroke-width="2"/>
</g>
<polyline points="56.6,1290 56.6,942.55 127.5,942.55" fill="none" stroke="#000" stroke-width="6.6"/>
<line x1="173.5" y1="942.55" x2="1693" y2="942.55" stroke="#000" stroke-width="6.6"/>
<line x1="130.6" y1="903" x2="129.7" y2="946" stroke="#000" stroke-width="6.7"/>
<line x1="170.7" y1="903" x2="171.5" y2="946" stroke="#000" stroke-width="6.7"/>
<path d="M829.3,900 V1014 A31,31 0 0 1 798.3,1045 H780" fill="none" stroke="#fff" stroke-width="25.4"/>
<g transform="translate(702.5,1068.5) scale(1,-1)">
<polygon points="2.35,2.35 77.35,2.35 77.35,33.25 48.15,33.25 48.15,26.15 2.35,26.15" fill="#fff" stroke="#fff" stroke-width="20.7" stroke-linejoin="round"/>
<polygon points="0,0.4 51.8,-7.4 52.4,-3.2 29,0.4" fill="#fff" stroke="#fff" stroke-width="11" stroke-linejoin="round"/>
</g>
<rect x="762" y="1020.5" width="40" height="5.2" fill="#fff"/>
<g transform="translate(702.5,1065) scale(1,-1)">
<polygon points="2.35,2.35 77.35,2.35 77.35,33.25 48.15,33.25 48.15,26.15 2.35,26.15" fill="#fff" stroke="#000" stroke-width="4.7"/>
<rect x="0" y="0" width="10.6" height="12.4" fill="#000"/>
<polygon points="0,0.4 51.8,-7.4 52.4,-3.2 29,0.4" fill="#000"/>
</g>
<path d="M525,669.7 H804 A25,25 0 0 1 829.3,694.7 V1014 A31,31 0 0 1 798.3,1045 H780" fill="none" stroke="#000" stroke-width="12.6"/>
</svg>
</body>
</html>
